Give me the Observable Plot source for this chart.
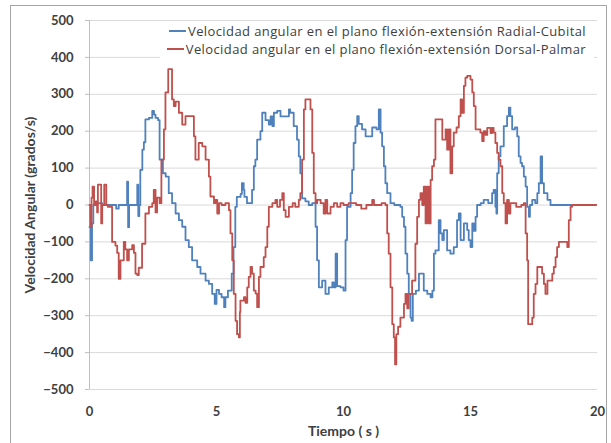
<!DOCTYPE html>
<html><head><meta charset="utf-8">
<script src="https://cdn.jsdelivr.net/npm/d3@7"></script>
<script src="https://cdn.jsdelivr.net/npm/@observablehq/plot@0.6"></script>
<style>
body{margin:0;background:#fff;}
#wrap{position:relative;width:611px;height:443px;overflow:hidden;font-family:Lato,"Open Sans",sans-serif;}
#border{position:absolute;left:10px;top:5px;width:597px;height:470px;border:1px solid #a6a6a6;box-sizing:border-box;pointer-events:none}
#legend{position:absolute;left:160px;top:23px;width:434px;height:36px;background:#fff;font-family:"Open Sans",sans-serif;font-size:13px;letter-spacing:0.4px;color:#404040;}
.row{position:absolute;right:8px;display:flex;align-items:center;white-space:nowrap;height:16px;line-height:16px}
.sw{display:inline-block;width:17px;height:2px;margin-right:2px}
</style></head>
<body>
<div id="wrap"><div id="chart"></div><div id="legend"></div><div id="border"></div></div>
<script>
const xTicks = [0, 5, 10, 15, 20];
const yTicks = [-500, -400, -300, -200, -100, 0, 100, 200, 300, 400, 500];
const seriesNames = [
  "Velocidad angular en el plano flexión-extensión Radial-Cubital",
  "Velocidad angular en el plano flexión-extensión Dorsal-Palmar"
];
const seriesColors = ["#4F81BD", "#C0504D"];

// [tiempo (s), velocidad (grados/s)]
const radialCubital = [[0,-60],[0.05,-150],[0.1,-50],[0.15,0],[0.3,5],[0.5,0],[0.7,0],[1.05,-10],[1.15,0],[1.48,63],[1.52,-60],[1.56,0],[1.88,55],[1.92,-30],[1.96,0],[2.0,95],[2.08,150],[2.14,170],[2.2,232],[2.34,236],[2.47,255],[2.54,245],[2.6,236],[2.7,230],[2.76,123],[2.89,86],[3.0,77],[3.12,32],[3.25,5],[3.39,-23],[3.52,-41],[3.65,-59],[3.78,-95],[3.91,-114],[4.04,-150],[4.24,-168],[4.37,-186],[4.57,-205],[4.7,-214],[4.83,-241],[4.93,-268],[5.0,-230],[5.1,-241],[5.2,-250],[5.3,-277],[5.35,-250],[5.45,-232],[5.6,-186],[5.67,-114],[5.74,-5],[5.8,22],[5.95,30],[6.0,59],[6.07,41],[6.1,22],[6.2,5],[6.4,41],[6.47,105],[6.53,123],[6.6,177],[6.73,200],[6.8,250],[6.93,230],[7.06,218],[7.13,240],[7.2,214],[7.26,250],[7.39,255],[7.52,240],[7.85,259],[7.9,250],[8.04,214],[8.17,177],[8.24,132],[8.3,86],[8.37,18],[8.5,10],[8.63,0],[8.77,5],[8.9,-59],[8.96,-150],[9.03,-223],[9.16,-205],[9.29,-241],[9.42,-223],[9.56,-210],[9.62,-223],[9.69,-132],[9.75,-220],[9.88,-223],[10.0,-232],[10.08,-95],[10.14,-5],[10.28,32],[10.34,95],[10.4,168],[10.47,214],[10.54,241],[10.6,220],[10.73,205],[10.87,186],[11.13,210],[11.3,205],[11.39,259],[11.46,196],[11.52,159],[11.59,105],[11.65,59],[11.72,32],[11.85,5],[12.0,0],[12.24,-5],[12.31,-32],[12.38,-59],[12.44,-132],[12.51,-186],[12.57,-241],[12.64,-305],[12.68,-314],[12.73,-241],[12.85,-232],[12.97,-186],[13.16,-232],[13.3,-241],[13.43,-250],[13.5,-232],[13.56,-132],[13.62,-123],[13.75,-41],[13.82,-77],[13.89,-95],[13.95,-68],[14.08,-123],[14.21,-132],[14.34,-114],[14.47,-41],[14.54,-23],[14.61,-95],[14.74,-50],[14.87,-68],[14.93,-95],[15.0,-114],[15.07,-50],[15.13,-70],[15.2,-32],[15.26,0],[15.4,5],[15.52,14],[15.7,5],[15.85,32],[15.91,41],[15.98,-5],[16.02,-23],[16.05,86],[16.11,132],[16.18,159],[16.31,214],[16.44,241],[16.51,264],[16.57,241],[16.64,205],[16.75,210],[16.84,186],[16.9,132],[16.97,114],[17.03,105],[17.1,77],[17.17,50],[17.23,-5],[17.3,-32],[17.34,0],[17.43,14],[17.55,5],[17.63,32],[17.69,59],[17.76,132],[17.82,59],[17.89,32],[18.03,14],[18.15,0],[19.9,0]];

const dorsalPalmar = [[0,0],[0.03,-60],[0.08,20],[0.12,50],[0.18,0],[0.25,10],[0.3,-20],[0.33,55],[0.46,-50],[0.5,0],[0.58,55],[0.66,0],[0.72,-5],[0.89,-100],[1.02,-110],[1.09,-130],[1.15,-200],[1.22,-150],[1.35,-100],[1.41,-120],[1.48,-150],[1.55,-120],[1.68,-109],[1.75,-130],[1.81,-186],[1.88,-190],[1.94,-170],[2.07,-105],[2.2,-23],[2.34,-5],[2.47,5],[2.53,41],[2.6,-20],[2.66,20],[2.76,5],[2.83,123],[2.93,205],[2.99,305],[3.1,368],[3.19,368],[3.25,286],[3.32,268],[3.39,280],[3.52,250],[3.65,218],[3.78,241],[4.04,241],[4.11,186],[4.17,123],[4.3,168],[4.44,159],[4.57,123],[4.7,77],[4.76,23],[4.9,5],[4.96,14],[5.03,-23],[5.1,5],[5.2,0],[5.35,5],[5.49,-14],[5.55,-77],[5.62,-150],[5.68,-241],[5.75,-314],[5.81,-350],[5.88,-359],[5.92,-290],[5.94,-259],[6.08,-250],[6.14,-265],[6.21,-223],[6.27,-195],[6.34,-168],[6.4,-186],[6.47,-232],[6.54,-240],[6.6,-277],[6.67,-195],[6.73,-168],[6.86,-141],[6.93,-114],[7.0,-59],[7.06,-5],[7.2,5],[7.32,14],[7.39,-5],[7.5,14],[7.59,32],[7.65,-14],[7.72,-32],[7.85,-5],[8.0,5],[8.1,-5],[8.24,14],[8.3,32],[8.37,123],[8.44,259],[8.5,286],[8.65,286],[8.7,259],[8.77,141],[8.83,32],[8.9,5],[8.96,14],[9.1,5],[9.22,-23],[9.29,14],[9.36,-23],[9.49,-5],[9.62,5],[9.75,-5],[9.88,5],[10.0,0],[10.2,5],[10.5,0],[10.7,-10],[10.9,0],[11.13,14],[11.2,0],[11.5,5],[11.65,0],[11.72,-77],[11.78,-132],[11.85,-223],[11.92,-323],[11.98,-359],[12.03,-432],[12.08,-350],[12.15,-330],[12.24,-305],[12.38,-268],[12.44,-241],[12.51,-280],[12.57,-241],[12.7,-205],[12.83,-105],[12.9,-32],[12.97,14],[13.03,32],[13.1,0],[13.16,50],[13.23,-50],[13.29,50],[13.36,-50],[13.43,68],[13.49,105],[13.56,123],[13.62,232],[13.8,232],[13.89,177],[14.02,205],[14.08,150],[14.15,205],[14.21,86],[14.28,159],[14.34,196],[14.45,210],[14.54,241],[14.61,286],[14.67,250],[14.74,323],[14.8,345],[14.87,350],[15.0,340],[15.07,305],[15.13,268],[15.2,205],[15.39,196],[15.46,173],[15.52,200],[15.59,190],[15.66,209],[15.79,195],[15.85,209],[15.91,196],[15.98,168],[16.05,141],[16.11,123],[16.18,105],[16.25,32],[16.31,5],[16.38,-50],[16.44,14],[16.51,-23],[16.57,5],[16.8,-5],[17.0,0],[17.1,5],[17.17,-77],[17.23,-150],[17.27,-323],[17.43,-305],[17.49,-241],[17.56,-214],[17.63,-168],[17.75,-168],[17.82,-186],[17.89,-214],[17.95,-241],[18.03,-205],[18.15,-205],[18.22,-186],[18.28,-168],[18.35,-141],[18.41,-114],[18.48,-100],[18.81,-114],[18.87,-41],[18.94,-5],[19.0,0],[19.95,0]];

const chart = Plot.plot({
  width: 611, height: 443,
  marginLeft: 89, marginRight: 14, marginTop: 20, marginBottom: 54,
  style: {fontFamily: "Lato, 'Open Sans', sans-serif", fontSize: "13px", fontWeight: "bold", color: "#404040", background: "transparent"},
  x: {domain: [0, 20]},
  y: {domain: [-500, 500]},
  marks: [
    Plot.gridY(yTicks, {stroke: "#d9d9d9", strokeOpacity: 1}),
    Plot.ruleX([0], {stroke: "#bfbfbf"}),
    Plot.axisY(yTicks, {tickSize: 4, tickPadding: 12, stroke: "#bfbfbf", label: "Velocidad Angular (grados/s)", labelAnchor: "center", labelOffset: 64, labelArrow: false, fontSize: 13}),
    Plot.axisX(xTicks, {tickSize: 0, tickPadding: 17, label: "Tiempo ( s )", labelAnchor: "center", labelOffset: 46, labelArrow: false, fontSize: 13}),
    Plot.line(radialCubital, {x: d => d[0], y: d => d[1], stroke: seriesColors[0], strokeWidth: 1.8, curve: "step-after"}),
    Plot.line(dorsalPalmar, {x: d => d[0], y: d => d[1], stroke: seriesColors[1], strokeWidth: 1.8, curve: "step-after"})
  ]
});
document.getElementById("chart").appendChild(chart);
chart.querySelectorAll('g[aria-label="y-axis label"] text, g[aria-label="x-axis label"] text').forEach(t => t.setAttribute("font-size", "14"));

const legend = document.getElementById("legend");
seriesNames.forEach((name, i) => {
  const row = document.createElement("div");
  row.className = "row";
  row.style.top = (i * 18) + "px";
  const sw = document.createElement("span");
  sw.className = "sw";
  sw.style.background = seriesColors[i];
  const tx = document.createElement("span");
  tx.textContent = name;
  row.appendChild(sw); row.appendChild(tx);
  legend.appendChild(row);
});
</script>
</body></html>
